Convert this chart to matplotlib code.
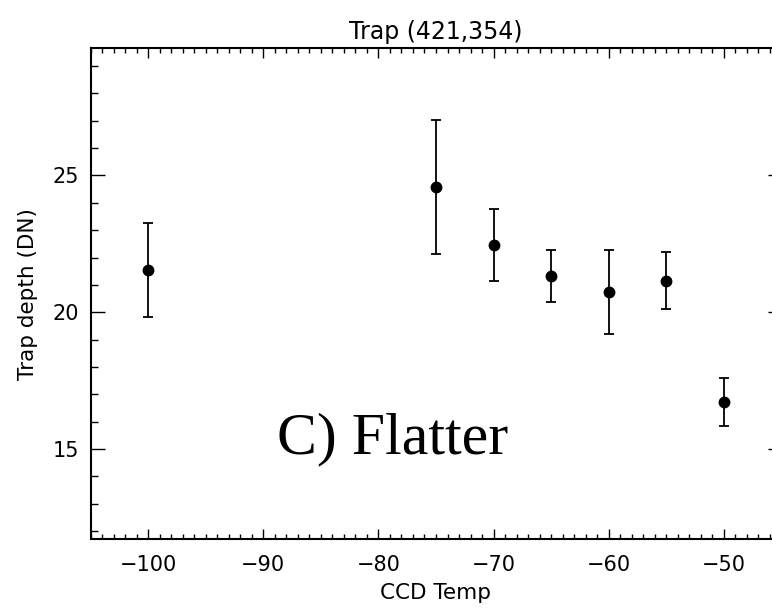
import matplotlib
matplotlib.use('Agg')
import matplotlib.pyplot as plt
from matplotlib.ticker import MultipleLocator
import numpy as np

# CCD temperature and measured trap depth, with symmetric errors
temps = [-100, -75, -70, -65, -60, -55, -50]
depth = [21.53, 24.59, 22.46, 21.32, 20.74, 21.16, 16.72]
depth_err = [1.72, 2.45, 1.33, 0.94, 1.52, 1.05, 0.875]

title = 'Trap (421,354)'
xlabel = 'CCD Temp'
ylabel = 'Trap depth (DN)'
note = 'C) Flatter'

plt.rcParams['font.family'] = 'DejaVu Sans'

fig = plt.figure(figsize=(7.72, 6.08), dpi=100)
# axes run off the right edge of the picture, as in the original
ax = fig.add_axes([90.5 / 772, 68.7 / 608, 691 / 772, 491 / 608])

ax.errorbar(temps, depth, yerr=depth_err, fmt='o', color='black',
            markersize=7.5, elinewidth=1.3, capsize=3.3, capthick=1.3)

ax.set_xlim(-105, -45)
ax.set_ylim(11.7, 29.65)
ax.xaxis.set_major_locator(MultipleLocator(10))
ax.xaxis.set_minor_locator(MultipleLocator(1))
ax.yaxis.set_major_locator(MultipleLocator(5))
ax.yaxis.set_minor_locator(MultipleLocator(1))

ax.tick_params(axis='both', which='both', direction='in',
               top=True, right=True, width=1, labelsize=15, color='black')
ax.tick_params(axis='x', which='major', length=7.2, pad=11)
ax.tick_params(axis='x', which='minor', length=3.6)
ax.tick_params(axis='y', which='major', length=10, pad=8)
ax.tick_params(axis='y', which='minor', length=5)
for sp in ax.spines.values():
    sp.set_linewidth(1.5)

ax.set_title(title, fontsize=17, pad=7)
ax.set_xlabel(xlabel, fontsize=15.5, labelpad=6)
ax.set_ylabel(ylabel, fontsize=15.5, labelpad=11)

ax.text(-88.8, 14.85, note, fontsize=43, family='Liberation Serif',
        ha='left', va='baseline')

plt.savefig('out.png', dpi=100)
plt.close()
